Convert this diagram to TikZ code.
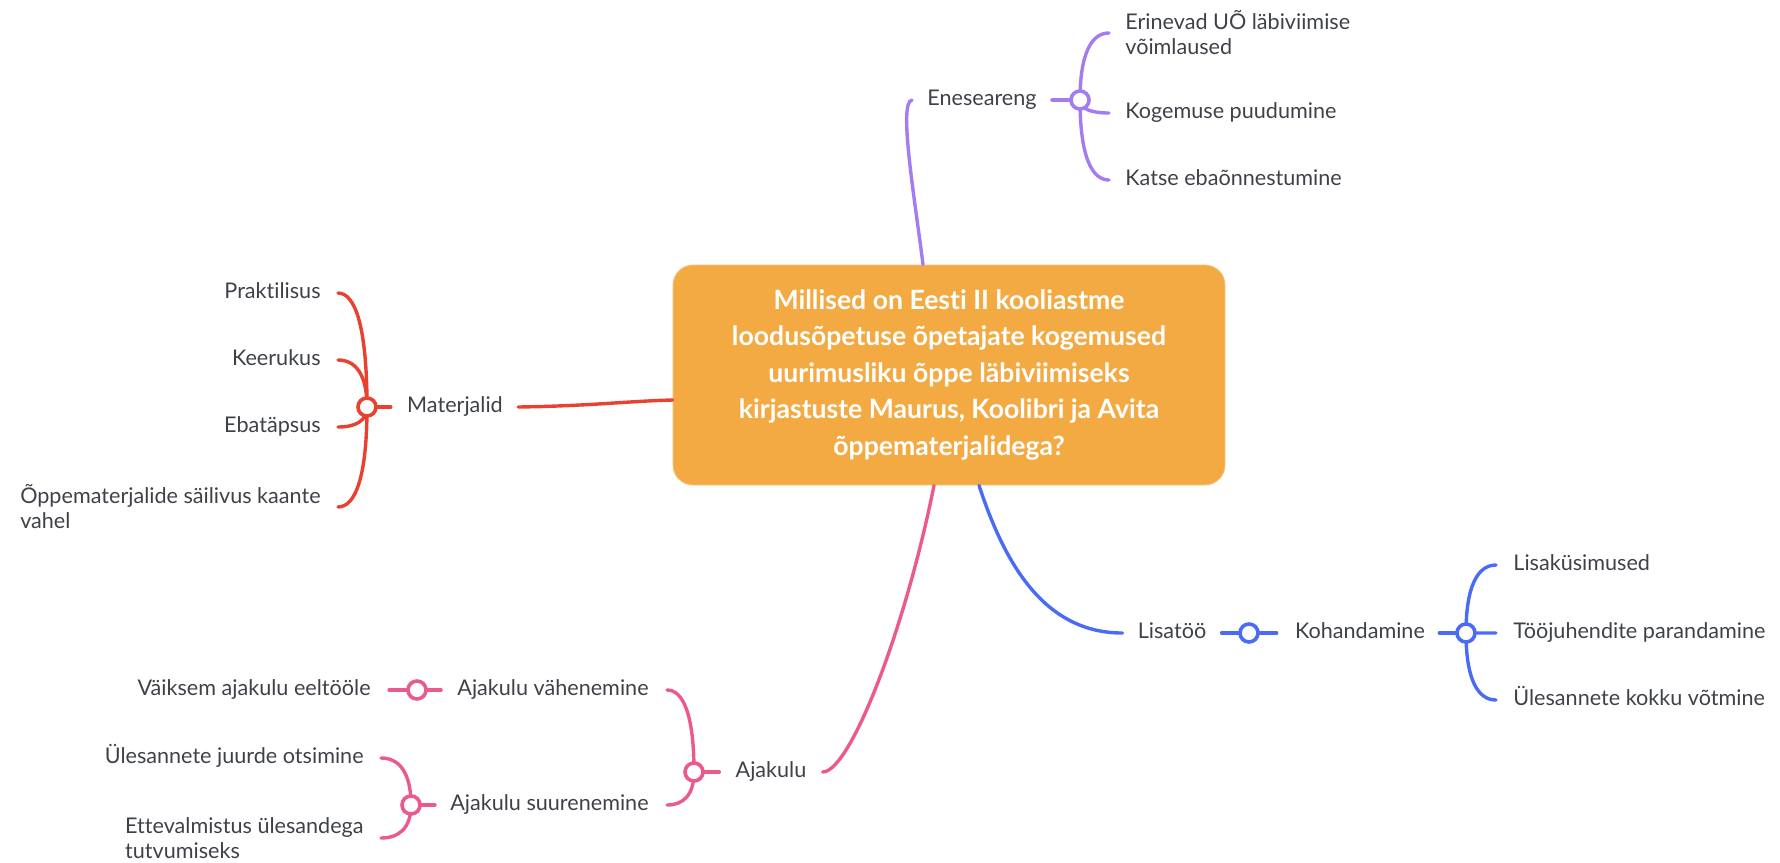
\documentclass[tikz,border=0pt]{standalone}
\usepackage{fontspec}
\setmainfont{Lato}[Ligatures=NoCommon]
\usetikzlibrary{calc}
\definecolor{cRed}{HTML}{E8412F}
\definecolor{cPurple}{HTML}{A47CF0}
\definecolor{cBlue}{HTML}{4A6BF5}
\definecolor{cPink}{HTML}{EB5A8D}
\definecolor{cOrange}{HTML}{F4AA43}
\definecolor{cText}{HTML}{3E4248}
\newcommand\lblfont{\fontsize{10.8}{12.5}\selectfont}
\newcommand\rootfont{\fontsize{13.3}{18.25}\selectfont\bfseries}
\newcommand\fanline[3]{%
  \coordinate (fantmp) at (#2|-#3);
  \draw[conn,#1] (#2) .. controls ($(#2)!0.7!(fantmp)$) and ($(#3)!0.6!(fantmp)$) .. (#3);}
\begin{document}
\begin{tikzpicture}[x=0.5pt,y=-0.5pt,
  lbl/.style={font=\lblfont, text=cText, inner sep=0pt},
  conn/.style={line width=1.7pt, line cap=round},
  hubn/.style={circle, draw=#1, fill=white, line width=1.8pt, minimum size=9pt, inner sep=0pt},
  rootbox/.style={fill=cOrange, draw=cOrange!70!white, line width=0.4pt, rounded corners=10pt,
    minimum width=276pt, minimum height=110pt, inner sep=0pt, align=center,
    font=\rootfont, text=white}]
\useasboundingbox (0,0) rectangle (1780,862);

% central box
\node[rootbox] (box) at (949,375) {Millised on Eesti II kooliastme\\loodusõpetuse õpetajate kogemused\\uurimusliku õppe läbiviimiseks\\kirjastuste Maurus, Koolibri ja Avita\\õppematerjalidega?};

% labels: red
\node[lbl, anchor=mid] (mat) at (455,407) {Materjalid};
\node[lbl, anchor=mid east] (prak) at (321,293) {Praktilisus};
\node[lbl, anchor=mid east] (keer) at (321,360) {Keerukus};
\node[lbl, anchor=mid east] (ebat) at (321,427) {Ebatäpsus};
\node[lbl, anchor=east, align=left] (oppe) at (321,507) {Õppematerjalide säilivus kaante\\vahel};
% purple
\node[lbl, anchor=mid] (enes) at (982,100) {Eneseareng};
\node[lbl, anchor=west, align=left] (eri) at (1125,33) {Erinevad UÕ läbiviimise\\võimlaused};
\node[lbl, anchor=mid west] (kog) at (1125,113) {Kogemuse puudumine};
\node[lbl, anchor=mid west] (kat) at (1125,180) {Katse ebaõnnestumine};
% blue
\node[lbl, anchor=mid] (lis) at (1172,633) {Lisatöö};
\node[lbl, anchor=mid] (koh) at (1360,633) {Kohandamine};
\node[lbl, anchor=mid west] (lk) at (1513,565) {Lisaküsimused};
\node[lbl, anchor=mid west] (tj) at (1513,633) {Tööjuhendite parandamine};
\node[lbl, anchor=mid west] (uk) at (1513,700) {Ülesannete kokku võtmine};
% pink
\node[lbl, anchor=mid] (aja) at (771,772) {Ajakulu};
\node[lbl, anchor=mid east] (vah) at (649,690) {Ajakulu vähenemine};
\node[lbl, anchor=mid east] (suu) at (649,805) {Ajakulu suurenemine};
\node[lbl, anchor=mid east] (vai) at (371,690) {Väiksem ajakulu eeltööle};
\node[lbl, anchor=mid east] (ulj) at (364,758) {Ülesannete juurde otsimine};
\node[lbl, anchor=east, align=left] (ett) at (364,838) {Ettevalmistus ülesandega\\tutvumiseks};

% hub positions
\coordinate (hR) at (367,407);
\coordinate (hP) at (1080,100);
\coordinate (hB1) at (1249,633);
\coordinate (hB2) at (1466,633);
\coordinate (hA) at (694,772);
\coordinate (hV) at (417,690);
\coordinate (hS) at (411,805);

% connector ends
\coordinate (ePrak) at ($(prak.mid east)+(17,0)$);
\coordinate (eKeer) at ($(keer.mid east)+(17,0)$);
\coordinate (eEbat) at ($(ebat.mid east)+(17,0)$);
\coordinate (eOppe) at ($(oppe.east)+(17,0)$);
\coordinate (eEri) at ($(eri.west)+(-16,0)$);
\coordinate (eKog) at ($(kog.mid west)+(-16,0)$);
\coordinate (eKat) at ($(kat.mid west)+(-16,0)$);
\coordinate (eLk) at ($(lk.mid west)+(-17,0)$);
\coordinate (eTj) at ($(tj.mid west)+(-17,0)$);
\coordinate (eUk) at ($(uk.mid west)+(-17,0)$);
\coordinate (eVah) at ($(vah.mid east)+(18,0)$);
\coordinate (eSuu) at ($(suu.mid east)+(18,0)$);
\coordinate (eUlj) at ($(ulj.mid east)+(17,0)$);
\coordinate (eEtt) at ($(ett.east)+(17,0)$);

% main branches
\draw[conn,cRed] ($(mat.mid east)+(15,0)$) .. controls (590,406) and (630,401) .. ($(box.west)+(0,25)$);
\draw[conn,cPurple] ($(box.north)+(-26,0)$) .. controls (915,200) and (898,102) .. ($(enes.mid west)+(-15,0)$);
\draw[conn,cBlue] ($(box.south)+(30,0)$) .. controls (1005,565) and (1045,633) .. ($(lis.mid west)+(-15,0)$);
\draw[conn,cPink] ($(box.south)+(-15,0)$) .. controls (905,630) and (850,772) .. ($(aja.mid east)+(16,0)$);

% short links
\draw[conn,cRed] (hR) -- ($(mat.mid west)+(-16,0)$);
\draw[conn,cPurple] (hP) -- ($(enes.mid east)+(15,0)$);
\draw[conn,cBlue] ($(lis.mid east)+(15,0)$) -- (hB1) -- ($(koh.mid west)+(-18,0)$);
\draw[conn,cBlue] ($(koh.mid east)+(14,0)$) -- (hB2);
\draw[conn,cPink] (hA) -- ($(aja.mid west)+(-16,0)$);
\draw[conn,cPink] ($(vah.mid west)+(-16,0)$) -- (hV) -- ($(vai.mid east)+(18,0)$);
\draw[conn,cPink] (hS) -- ($(suu.mid west)+(-15,0)$);

% fans
\fanline{cRed}{hR}{ePrak}
\fanline{cRed}{hR}{eKeer}
\fanline{cRed}{hR}{eEbat}
\fanline{cRed}{hR}{eOppe}
\fanline{cPurple}{hP}{eEri}
\fanline{cPurple}{hP}{eKog}
\fanline{cPurple}{hP}{eKat}
\fanline{cBlue}{hB2}{eLk}
\fanline{cBlue}{hB2}{eTj}
\fanline{cBlue}{hB2}{eUk}
\fanline{cPink}{hA}{eVah}
\fanline{cPink}{hA}{eSuu}
\fanline{cPink}{hS}{eUlj}
\fanline{cPink}{hS}{eEtt}

% hubs
\node[hubn=cRed] (nR) at (hR) {};
\node[hubn=cPurple] (nP) at (hP) {};
\node[hubn=cBlue] (nB1) at (hB1) {};
\node[hubn=cBlue] (nB2) at (hB2) {};
\node[hubn=cPink] (nA) at (hA) {};
\node[hubn=cPink] (nV) at (hV) {};
\node[hubn=cPink] (nS) at (hS) {};
\end{tikzpicture}
\end{document}
